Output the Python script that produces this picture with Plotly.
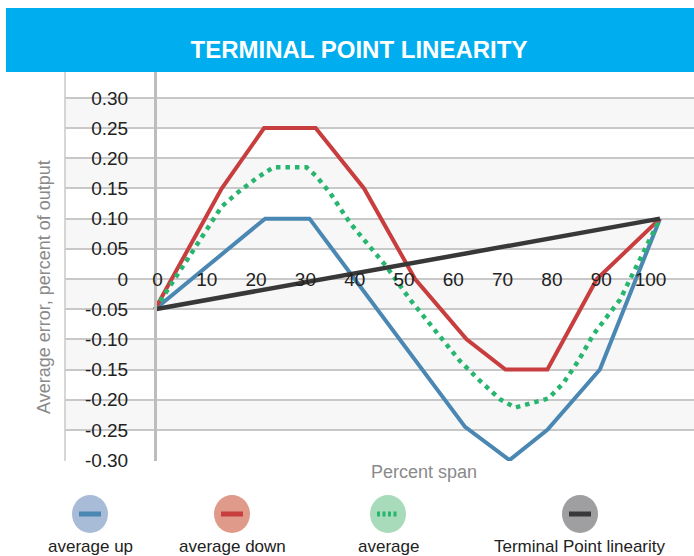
import plotly.graph_objects as go

# ---------------- data ----------------
up_x = [0, 21.8, 30.6, 61.4, 70.2, 77.7, 88.1, 100]
up_y = [-0.05, 0.10, 0.10, -0.245, -0.30, -0.25, -0.15, 0.10]

down_x = [0, 13.2, 21.6, 31.8, 41.4, 51.5, 61.7, 69.4, 77.7, 87.5, 100]
down_y = [-0.05, 0.15, 0.25, 0.25, 0.15, 0.0, -0.10, -0.15, -0.15, 0.0, 0.10]

avg_x = [0, 6.9, 13.2, 16.2, 20.1, 23.4, 30.0, 32.0, 34.7, 38.6, 41.2, 45.8, 50.5,
         55.8, 60.4, 64.4, 68.3, 71.3, 73.9, 77.9, 80.9, 83.8, 86.8, 92.1, 96.0, 100]
avg_y = [-0.05, 0.038, 0.12, 0.142, 0.167, 0.185, 0.185, 0.170, 0.142, 0.093, 0.068, 0.021, -0.034,
         -0.089, -0.136, -0.169, -0.199, -0.213, -0.207, -0.198, -0.172, -0.136, -0.092, -0.034, 0.032, 0.10]

tpl_x = [0, 100]
tpl_y = [-0.05, 0.10]

y_ticks = [0.30, 0.25, 0.20, 0.15, 0.10, 0.05, 0, -0.05, -0.10, -0.15, -0.20, -0.25, -0.30]
y_tick_text = ["0.30", "0.25", "0.20", "0.15", "0.10", "0.05", "0",
               "-0.05", "-0.10", "-0.15", "-0.20", "-0.25", "-0.30"]
x_ticks = [0, 10, 20, 30, 40, 50, 60, 70, 80, 90, 100]
x_tick_text = [str(v) for v in x_ticks]

series_names = ["average up", "average down", "average", "Terminal Point linearity"]

# ---------------- style ----------------
W, H = 694, 556
ML, MR, MT, MB = 65, 0, 72, 95
PW, PH = W - ML - MR, H - MT - MB
FONT = "Arial, Liberation Sans, Helvetica, sans-serif"

C_UP = "#4a87b3"
C_DOWN = "#c83d3e"
C_AVG = "#27b56f"
C_TPL = "#383838"
C_GRID = "#c8c8c8"

PX_PER_UNIT = 5.05      # data x -> pixels
X0_PX = 155             # pixel of data x = 0
LBL_X0_PX, LBL_STEP = 157.5, 4.93   # category-label placement (slightly compressed, as in reference)


def pxx(px):
    return (px - ML) / PW


def pxy(py):
    return (H - MB - py) / PH


fig = go.Figure()
fig.add_trace(go.Scatter(x=up_x, y=up_y, mode="lines", name=series_names[0],
                         line=dict(color=C_UP, width=4)))
fig.add_trace(go.Scatter(x=down_x, y=down_y, mode="lines", name=series_names[1],
                         line=dict(color=C_DOWN, width=4)))
fig.add_trace(go.Scatter(x=avg_x, y=avg_y, mode="lines", name=series_names[2],
                         line=dict(color=C_AVG, width=4.5, dash="4.5px,5px")))
fig.add_trace(go.Scatter(x=tpl_x, y=tpl_y, mode="lines", name=series_names[3],
                         line=dict(color=C_TPL, width=4.5)))

shapes = []
# title band
shapes.append(dict(type="rect", xref="paper", yref="paper",
                   x0=pxx(6), x1=pxx(W), y0=pxy(72), y1=pxy(8),
                   fillcolor="#00aeef", line=dict(width=0), layer="below"))
# alternating bands
for i in range(0, len(y_ticks) - 1, 2):
    shapes.append(dict(type="rect", xref="paper", yref="y", x0=0, x1=1,
                       y0=y_ticks[i + 1], y1=y_ticks[i],
                       fillcolor="#f7f7f7", line=dict(width=0), layer="below"))
# left border
shapes.append(dict(type="line", xref="paper", yref="paper", x0=0, x1=0, y0=0, y1=1,
                   line=dict(color=C_GRID, width=1.5), layer="below"))

# legend
leg_cx = [90, 232, 388, 580]
leg_fill = ["#a8bcd8", "#e09a89", "#a7dbb9", "#9f9fa1"]
leg_line = [C_UP, C_DOWN, C_AVG, C_TPL]
leg_dash = ["solid", "solid", "3px,2.5px", "solid"]
annotations = []
for cx, fc, lc, ds, nm in zip(leg_cx, leg_fill, leg_line, leg_dash, series_names):
    shapes.append(dict(type="circle", xref="paper", yref="paper",
                       xsizemode="pixel", ysizemode="pixel",
                       xanchor=pxx(cx), yanchor=pxy(514),
                       x0=-18, x1=18, y0=-19, y1=19,
                       fillcolor=fc, line=dict(width=0), layer="above"))
    shapes.append(dict(type="line", xref="paper", yref="paper",
                       xsizemode="pixel", ysizemode="pixel",
                       xanchor=pxx(cx), yanchor=pxy(514),
                       x0=-11, x1=11, y0=0, y1=0,
                       line=dict(color=lc, width=5, dash=ds), layer="above"))
    annotations.append(dict(text=nm, xref="paper", yref="paper",
                            x=pxx(cx), y=pxy(546), xanchor="center", yanchor="middle",
                            showarrow=False, font=dict(size=17, color="#222222", family=FONT)))

annotations.append(dict(text="Average error, percent of output", xref="paper", yref="paper",
                        x=pxx(44), y=pxy(287), textangle=-90, showarrow=False,
                        xanchor="center", yanchor="middle",
                        font=dict(size=18, color="#8a8a8a", family=FONT)))
annotations.append(dict(text="Percent span", xref="paper", yref="paper",
                        x=pxx(424), y=pxy(472), showarrow=False,
                        xanchor="center", yanchor="middle",
                        font=dict(size=18, color="#8a8a8a", family=FONT)))

x_lo = -(X0_PX - ML) / PX_PER_UNIT
x_hi = (W - MR - X0_PX) / PX_PER_UNIT
x_tickpos = [(LBL_X0_PX + LBL_STEP * v - X0_PX) / PX_PER_UNIT for v in x_ticks]

fig.update_layout(
    width=W, height=H,
    margin=dict(l=ML, r=MR, t=MT, b=MB, pad=0),
    paper_bgcolor="white", plot_bgcolor="white",
    showlegend=False,
    font=dict(family=FONT, color="#222222"),
    title=dict(text="<b>TERMINAL POINT LINEARITY</b>", xref="container", yref="container",
               x=359 / W, y=1 - 50 / H, xanchor="center", yanchor="middle",
               font=dict(size=24, color="white", family=FONT)),
    xaxis=dict(range=[x_lo, x_hi], anchor="free", position=pxy(266),
               tickvals=x_tickpos, ticktext=x_tick_text,
               showgrid=False, zeroline=False, showline=False, ticks="",
               tickfont=dict(size=19, color="#222222", family=FONT)),
    yaxis=dict(range=[-0.3015, 0.30 + 26 / 605], anchor="free", position=pxx(155),
               tickvals=y_ticks, ticktext=y_tick_text,
               showgrid=True, gridcolor=C_GRID, gridwidth=2, zeroline=False,
               showline=True, linecolor="#bdbdbd", linewidth=3,
               ticks="outside", ticklen=22, tickcolor="rgba(0,0,0,0)",
               tickfont=dict(size=19, color="#222222", family=FONT)),
    shapes=shapes,
    annotations=annotations,
)

fig.write_html("out.html", config={"displayModeBar": False},
               post_script="document.body.style.margin='0';document.body.style.padding='0';")
